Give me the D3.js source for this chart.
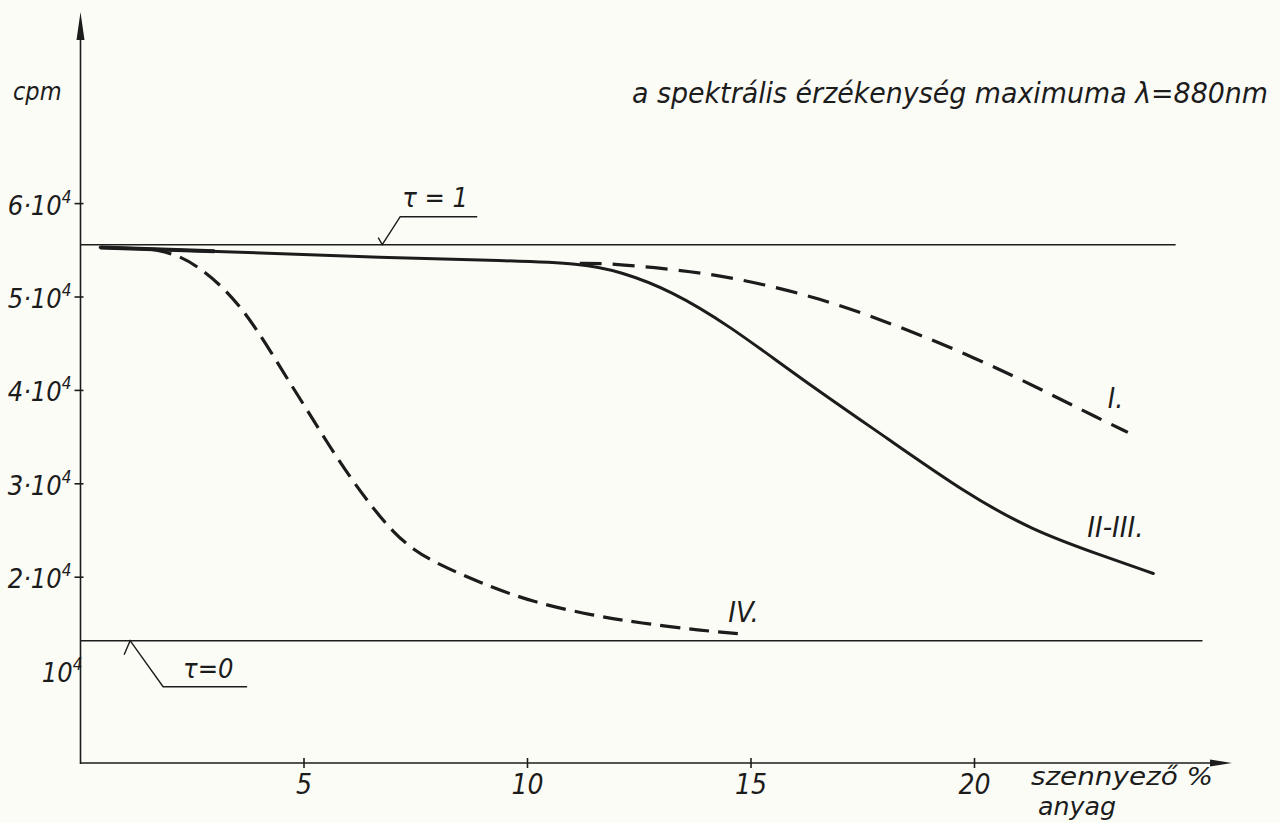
<!DOCTYPE html>
<html>
<head>
<meta charset="utf-8">
<script src="https://cdn.jsdelivr.net/npm/d3@7"></script>
<style>
  html, body { margin: 0; padding: 0; background: #fcfcf7; }
  svg { display: block; }
  text { font-family: "DejaVu Sans Condensed", "DejaVu Sans", sans-serif; font-style: italic; fill: #1c1c1c; }
</style>
</head>
<body>
<div id="container"></div>
<script>
// x: szennyező anyag %, y: cpm in units of 10^4
const xTicks = [5, 10, 15, 20];
const yTicks = [1, 2, 3, 4, 5, 6];

const tau1 = 5.56;
const tau0 = 1.32;

const curveII_x = [0.44, 3.0, 6.9, 9.5, 11.2, 12.1, 13.2, 14.5, 16.1, 18.1, 19.8, 21.3, 22.8, 24.0];
const curveII_y = [5.53, 5.49, 5.42, 5.39, 5.36, 5.27, 5.07, 4.70, 4.13, 3.47, 2.90, 2.50, 2.24, 2.04];

const curveI_x = [11.17, 11.85, 13.19, 14.31, 15.43, 16.54, 17.6, 18.7, 19.8, 20.9, 21.9, 22.7, 23.43];
const curveI_y = [5.36, 5.36, 5.30, 5.23, 5.12, 4.98, 4.81, 4.61, 4.39, 4.15, 3.91, 3.72, 3.55];

const curveIV_x = [1.6, 2.2, 2.7, 3.15, 3.55, 3.9, 4.25, 4.62, 5.07, 5.52, 6.03, 6.54, 7.0, 7.45, 8.0, 8.94, 10.12, 11.47, 12.52, 13.86, 14.87];
const curveIV_y = [5.51, 5.45, 5.30, 5.12, 4.91, 4.68, 4.42, 4.13, 3.79, 3.44, 3.07, 2.74, 2.48, 2.29, 2.14, 1.94, 1.73, 1.59, 1.51, 1.43, 1.39];

const ink = '#1c1c1c';
const W = 1280, H = 823;

const svg = d3.select('#container').append('svg')
  .attr('width', W)
  .attr('height', H);

svg.append('rect').attr('width', W).attr('height', H).attr('fill', '#fcfcf7');

const x = d3.scaleLinear().domain([0, 20]).range([80.5, 974.5]);
const y = d3.scaleLinear().domain([0, 6]).range([764, 203.6]);

const x0 = x(0), y0 = y(0);
const xEnd = 1232, yTop = 12;

// axes
svg.append('line')
  .attr('x1', x0).attr('y1', y0).attr('x2', x0).attr('y2', yTop + 10)
  .attr('stroke', ink).attr('stroke-width', 1.6);
svg.append('path')
  .attr('d', `M${x0},${yTop} L${x0 - 4},${yTop + 28} L${x0 + 4},${yTop + 28} Z`)
  .attr('fill', ink);

svg.append('line')
  .attr('x1', x0).attr('y1', y0 - 1).attr('x2', xEnd - 8).attr('y2', y0 - 1)
  .attr('stroke', ink).attr('stroke-width', 1.6);
svg.append('path')
  .attr('d', `M${xEnd},${y0 - 1} L${xEnd - 22},${y0 - 4.5} L${xEnd - 22},${y0 + 2.5} Z`)
  .attr('fill', ink);

// y ticks & labels
svg.selectAll('.ytick')
  .data(yTicks.filter(d => d > 1)).enter()
  .append('line')
  .attr('x1', x0 - 6).attr('x2', x0 + 3)
  .attr('y1', d => y(d)).attr('y2', d => y(d))
  .attr('stroke', ink).attr('stroke-width', 1.6);

const yLab = svg.selectAll('.ylab')
  .data(yTicks).enter()
  .append('text')
  .attr('x', d => d === 1 ? x0 + 2 : x0 - 9)
  .attr('y', d => y(d) + 11)
  .attr('text-anchor', 'end')
  .attr('font-size', 27);
yLab.append('tspan').text(d => d === 1 ? '10' : d + '·10');
yLab.append('tspan')
  .attr('font-size', 17)
  .attr('dy', -12)
  .text('4');

svg.append('text')
  .attr('x', 13).attr('y', 100)
  .attr('font-size', 25)
  .text('cpm');

// x ticks & labels
svg.selectAll('.xtick')
  .data(xTicks).enter()
  .append('line')
  .attr('x1', d => x(d)).attr('x2', d => x(d))
  .attr('y1', y0 - 6).attr('y2', y0 + 4)
  .attr('stroke', ink).attr('stroke-width', 1.6);

svg.selectAll('.xlab')
  .data(xTicks).enter()
  .append('text')
  .attr('x', d => x(d))
  .attr('y', y0 + 30)
  .attr('text-anchor', 'middle')
  .attr('font-size', 28)
  .text(d => d);

svg.append('text')
  .attr('x', 1031).attr('y', 785)
  .attr('font-size', 25)
  .attr('textLength', 182).attr('lengthAdjust', 'spacingAndGlyphs')
  .text('szennyező %');
svg.append('text')
  .attr('x', 1038).attr('y', 815)
  .attr('font-size', 25)
  .attr('textLength', 78).attr('lengthAdjust', 'spacingAndGlyphs')
  .text('anyag');

// title
svg.append('text')
  .attr('x', 632).attr('y', 103)
  .attr('font-size', 29)
  .attr('textLength', 636).attr('lengthAdjust', 'spacingAndGlyphs')
  .text('a spektrális érzékenység maximuma  λ=880nm');

// reference lines tau = 1 and tau = 0
const refLines = [
  { v: tau1, end: 24.5 },
  { v: tau0, end: 25.1 }
];
svg.selectAll('.ref')
  .data(refLines).enter()
  .append('line')
  .attr('x1', x0).attr('x2', d => x(d.end))
  .attr('y1', d => y(d.v)).attr('y2', d => y(d.v))
  .attr('stroke', ink).attr('stroke-width', 1.5);

// leaders for tau labels
const t1x = x(6.75), t1y = y(tau1);
svg.append('path')
  .attr('d', `M${t1x - 4},${t1y - 7} L${t1x},${t1y} L${t1x + 18},${t1y - 28} L${t1x + 95},${t1y - 28}`)
  .attr('fill', 'none').attr('stroke', ink).attr('stroke-width', 1.4);
svg.append('text')
  .attr('x', t1x + 20).attr('y', t1y - 38)
  .attr('font-size', 27)
  .text('τ = 1');

const t0x = x(1.11), t0y = y(tau0);
svg.append('path')
  .attr('d', `M${t0x - 6},${t0y + 14} L${t0x},${t0y} L${t0x + 33},${t0y + 46} L${t0x + 117},${t0y + 46}`)
  .attr('fill', 'none').attr('stroke', ink).attr('stroke-width', 1.4);
svg.append('text')
  .attr('x', t0x + 53).attr('y', t0y + 37)
  .attr('font-size', 27)
  .text('τ=0');

// curves
const line = d3.line()
  .x(d => x(d[0]))
  .y(d => y(d[1]))
  .curve(d3.curveBasis);

const zip = (xs, ys) => xs.map((v, i) => [v, ys[i]]);

const dataII = zip(curveII_x, curveII_y);
const dataI = zip(curveI_x, curveI_y);
const dataIV = zip(curveIV_x, curveIV_y);

svg.append('path')
  .attr('d', line(dataIV))
  .attr('fill', 'none').attr('stroke', ink)
  .attr('stroke-width', 3.2)
  .attr('stroke-dasharray', '20,9');

svg.append('path')
  .attr('d', line(dataI))
  .attr('fill', 'none').attr('stroke', ink)
  .attr('stroke-width', 3.2)
  .attr('stroke-dasharray', '22,11');

svg.append('path')
  .attr('d', line(dataII))
  .attr('fill', 'none').attr('stroke', ink)
  .attr('stroke-width', 3)
  .attr('stroke-linecap', 'round');

// thicker common start
svg.append('path')
  .attr('d', d3.line().x(d => x(d[0])).y(d => y(d[1]))(dataII.slice(0, 2)))
  .attr('fill', 'none').attr('stroke', ink)
  .attr('stroke-width', 4.2);

// curve labels
const endLabel = (data, dx, dy, txt, size) => {
  const last = data[data.length - 1];
  svg.append('text')
    .attr('x', x(last[0]) + dx)
    .attr('y', y(last[1]) + dy)
    .attr('font-size', size)
    .text(txt);
};
endLabel(dataI, -20, -24, 'I.', 28);
endLabel(dataII, -66, -36, 'II-III.', 29);
endLabel(dataIV, -17, -12, 'IV.', 29);
</script>
</body>
</html>
